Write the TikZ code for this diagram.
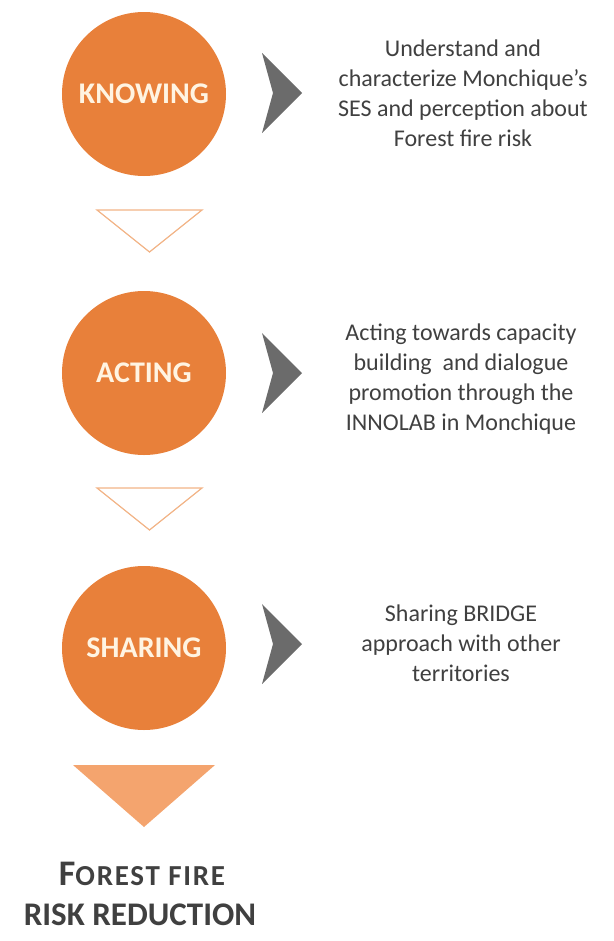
\documentclass[tikz,border=0pt]{standalone}
\usepackage{fontspec}
\setmainfont{Carlito}
\definecolor{circ}{HTML}{E8803A}
\definecolor{cream}{HTML}{FFF4E2}
\definecolor{chev}{HTML}{6B6B6B}
\definecolor{txt}{HTML}{404040}
\definecolor{peach}{HTML}{F4A46E}
\definecolor{pale}{HTML}{F2B487}
\tikzset{
  stage/.style={circle, fill=circ, minimum size=164bp, inner sep=0pt, text=cream,
    font=\fontsize{30bp}{36bp}\selectfont\bfseries},
  desc/.style={align=center, text=txt, font=\fontsize{24bp}{30bp}\selectfont, inner sep=0pt},
  chevshape/.style={fill=chev, draw=none},
  downtri/.style={fill=white, draw=pale, line width=1.2bp, line join=miter},
  finaltri/.style={fill=peach, draw=none},
  final/.style={text=txt, inner sep=0pt, anchor=base}
}
\begin{document}
\begin{tikzpicture}[x=1bp, y=-1bp]
\useasboundingbox (0,0) rectangle (614,941);
% stages
\node[stage] (k) at (144,94) {KNOWING};
\node[stage] (a) at (144,373) {ACTING};
\node[stage] (s) at (144,648) {SHARING};
% chevrons
\foreach \cy/\nm in {93/c1, 373/c2, 644/c3} {
  \fill[chevshape] (262,\cy-40) -- (302,\cy) -- (262,\cy+40) -- (273,\cy) -- cycle;
  \coordinate (\nm) at (282,\cy);
}
% descriptions
\node[desc] (d1) at (463,93) {Understand and\\characterize Monchique’s\\SES and perception about\\Forest fire risk};
\node[desc] (d2) at (461,379) {Acting towards capacity\\building\ \ and dialogue\\promotion through the\\INNOLAB in Monchique};
\node[desc] (d3) at (461,643) {Sharing BRIDGE\\approach with other\\territories};
% down triangles
\draw[downtri] (97,210) -- (202,210) -- (149.5,252) -- cycle;
\draw[downtri] (97,488) -- (202,488) -- (149.5,530) -- cycle;
\fill[finaltri] (73,765) -- (215,765) -- (144,827) -- cycle;
% final text
\node[final] (f1) at (142,885) {\bfseries\addfontfeatures{LetterSpace=6}\fontsize{36bp}{40bp}\selectfont F\fontsize{29bp}{30bp}\selectfont OREST FIRE};
\node[final] (f2) at (140,925) {\bfseries\fontsize{33bp}{40bp}\selectfont RISK REDUCTION};
\end{tikzpicture}
\end{document}
